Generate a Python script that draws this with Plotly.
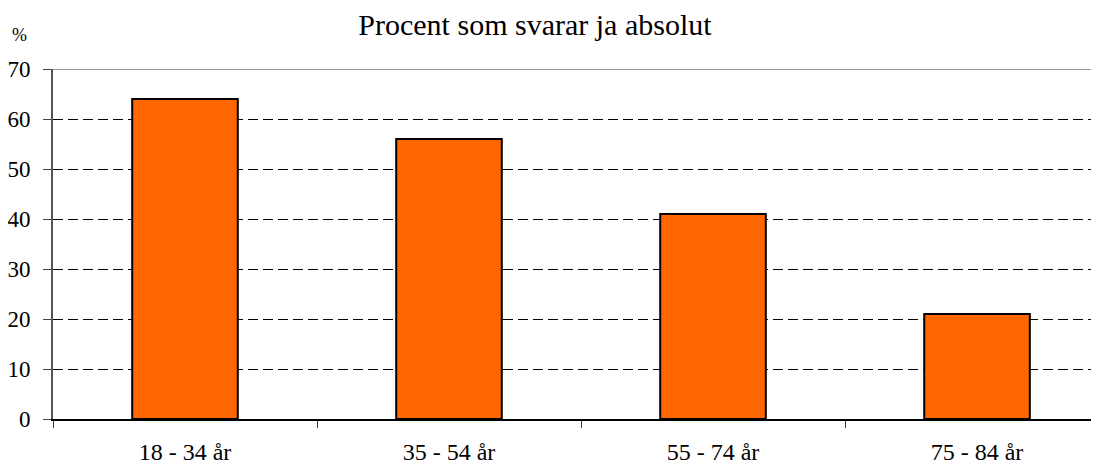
import plotly.graph_objects as go

categories = ["18 - 34 år", "35 - 54 år", "55 - 74 år", "75 - 84 år"]
values = [64, 56, 41, 21]
y_ticks = [0, 10, 20, 30, 40, 50, 60, 70]

font = "Liberation Serif"

fig = go.Figure()
fig.add_trace(go.Bar(
    x=categories, y=values, width=0.4,
    marker=dict(color="#FF6600", line=dict(color="black", width=2)),
))

fig.update_layout(
    width=1091, height=460,
    margin=dict(l=45, r=0, t=61, b=49, autoexpand=False),
    paper_bgcolor="white", plot_bgcolor="white",
    showlegend=False,
    font=dict(family=font, color="black", size=20),
    title=dict(text="Procent som svarar ja absolut", x=0.483, xanchor="center",
               y=0.965, yanchor="middle", font=dict(size=30, family=font)),
    xaxis=dict(
        type="category", range=[-0.5, 3.462], automargin=False,
        showgrid=False, showline=True, linecolor="black", linewidth=2,
        ticks="outside", tickson="boundaries", ticklen=7, tickcolor="#444",
        ticklabelstandoff=10,
        tickfont=dict(size=24, family=font), zeroline=False,
    ),
    yaxis=dict(
        range=[0, 70], tickvals=y_ticks, showline=True, linecolor="#555", linewidth=2,
        ticks="outside", ticklen=8, tickcolor="#444", automargin=False,
        ticklabelstandoff=8,
        showgrid=True, gridcolor="black", griddash="10px,5px", gridwidth=1,
        zeroline=False, tickfont=dict(size=23, family=font),
    ),
    shapes=[dict(type="line", xref="paper", yref="y", x0=0, x1=1, y0=70, y1=70,
                 line=dict(color="#999", width=2))],
    annotations=[dict(text="%", xref="paper", yref="paper", x=-0.0316, y=1.097,
                      xanchor="center", yanchor="middle", showarrow=False,
                      font=dict(size=18, family=font))],
)

fig.write_html("out.html")
